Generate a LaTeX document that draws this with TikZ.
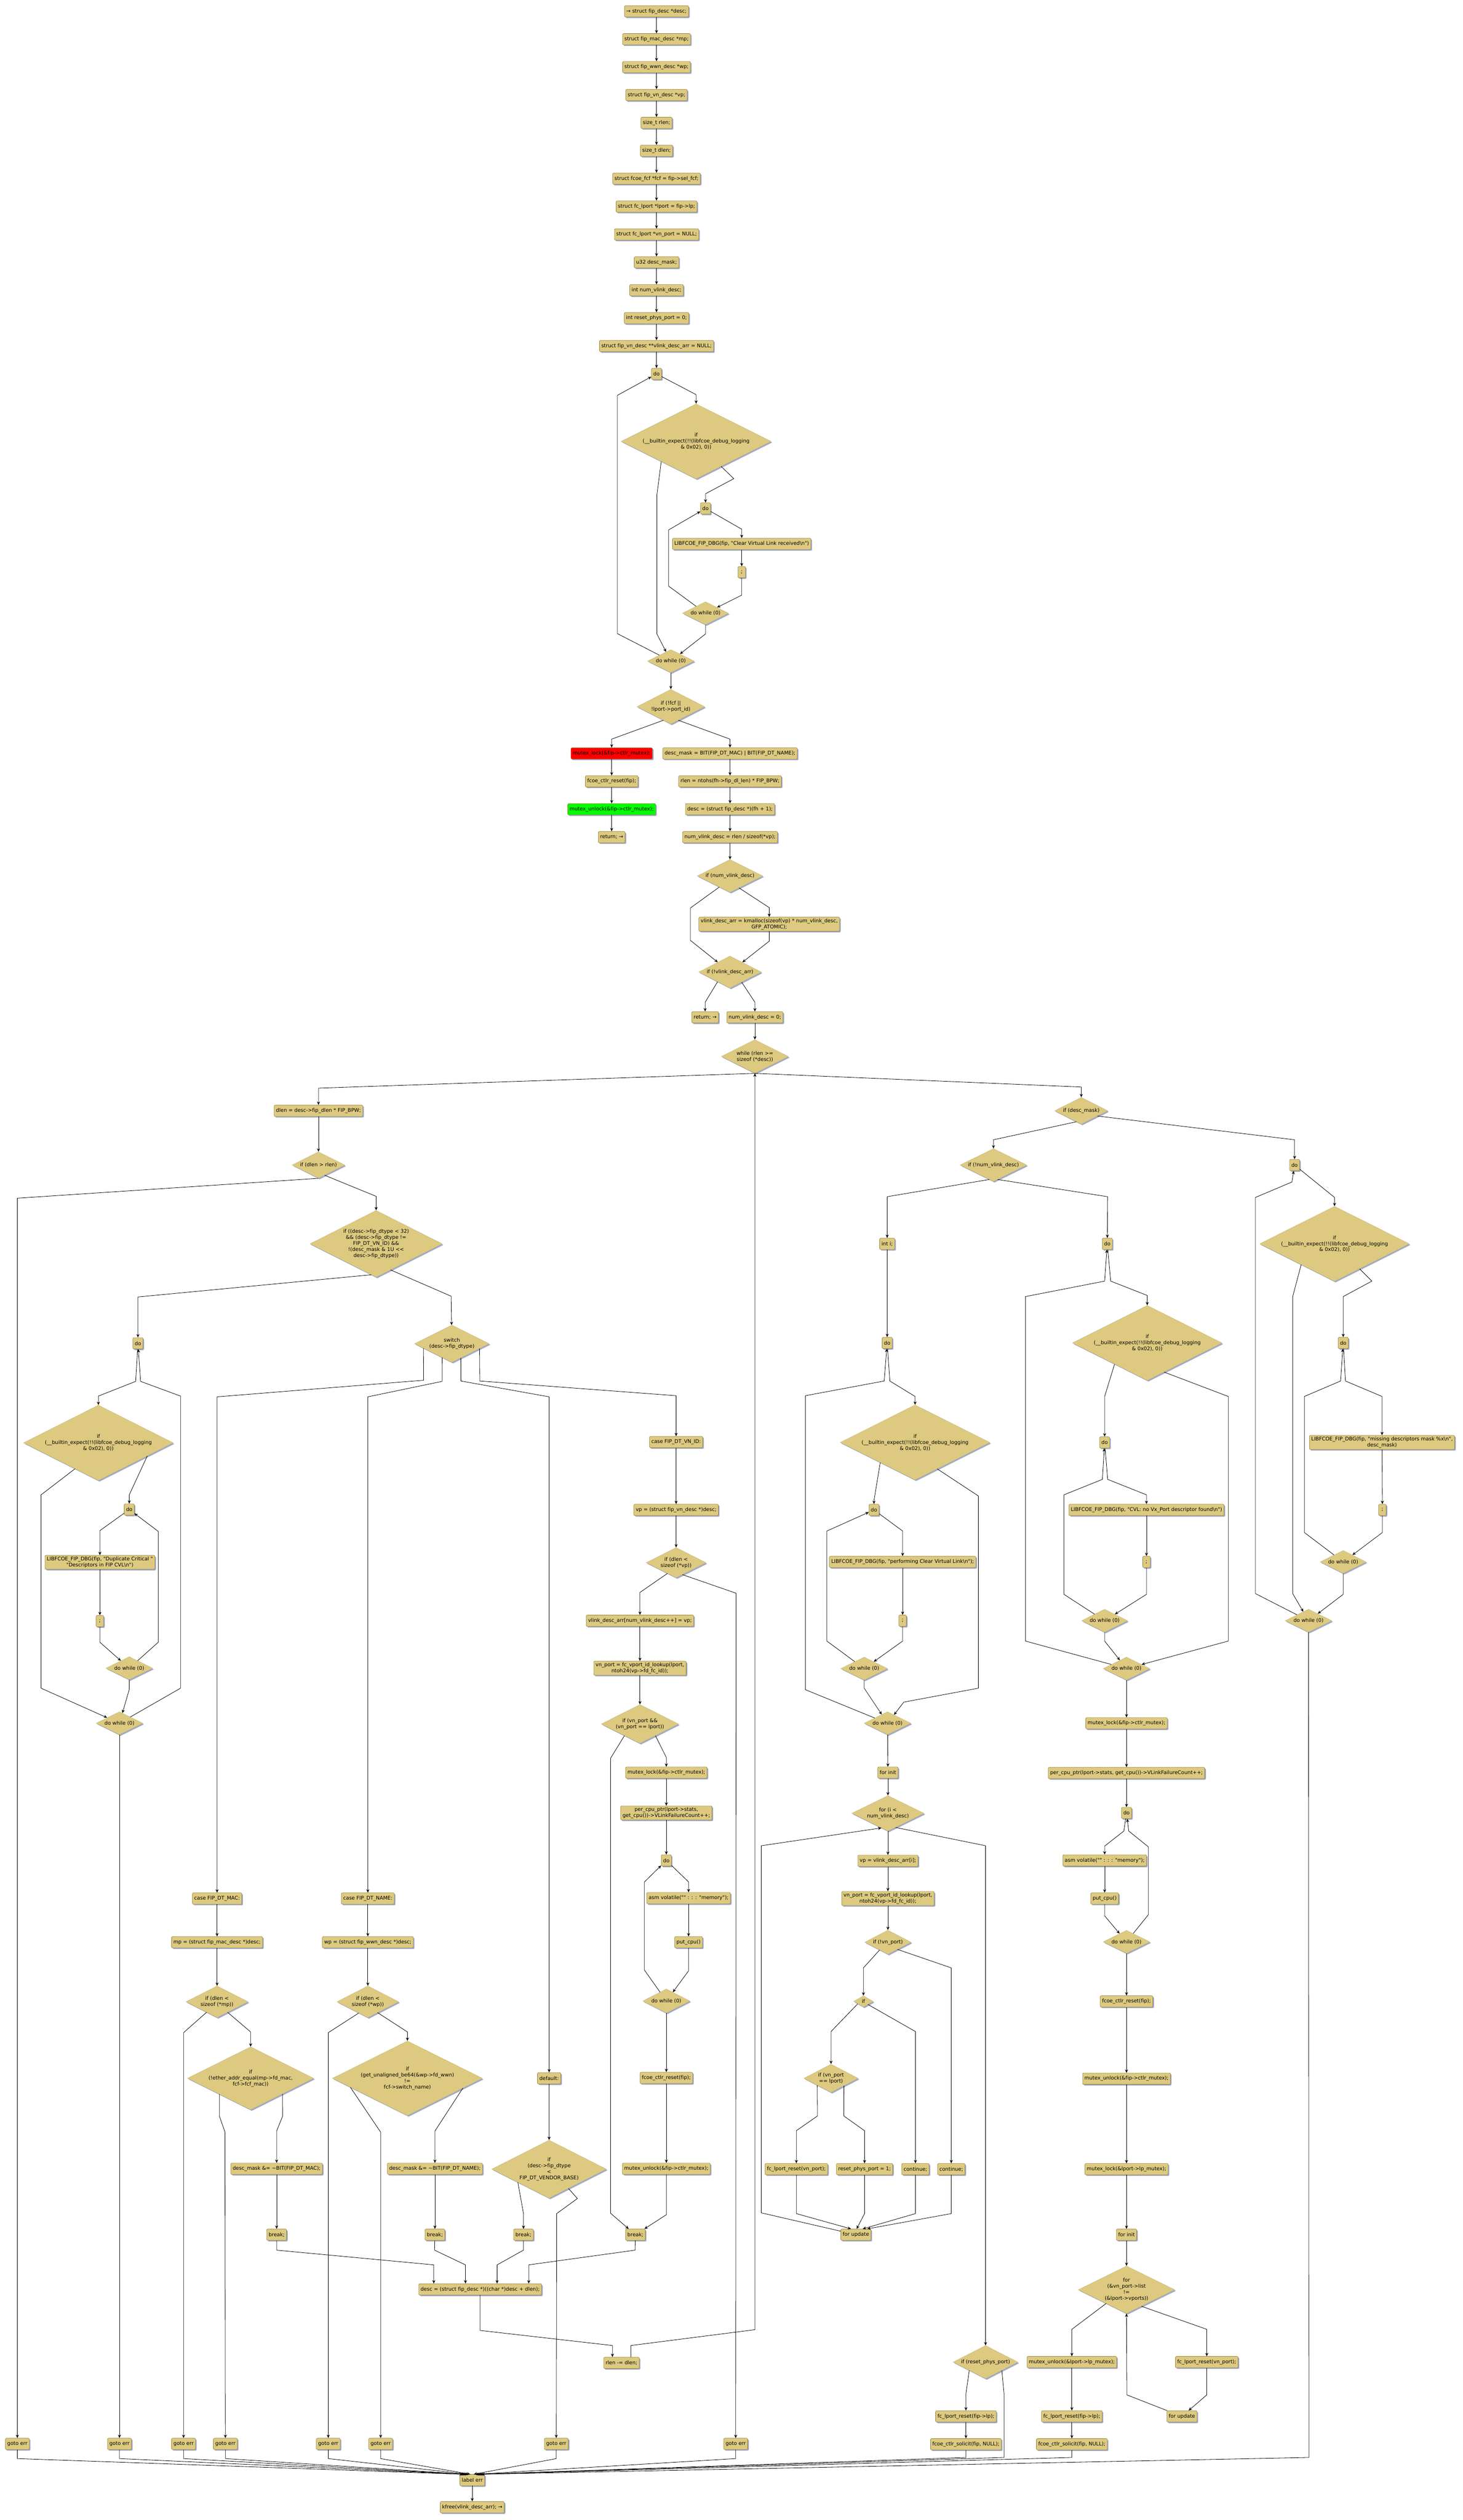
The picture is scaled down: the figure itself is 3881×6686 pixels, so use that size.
\documentclass[tikz,border=0pt]{standalone}
\usepackage{fontspec}
\newfontfamily\dv{DejaVu Sans}[Ligatures=NoCommon]
\usetikzlibrary{shapes.geometric,shadows,arrows.meta}
\definecolor{boxc}{RGB}{221,202,128}
\definecolor{bordc}{RGB}{150,130,60}
\definecolor{shc}{RGB}{160,170,205}
\newcommand{\fs}{\dv\fontsize{13.4}{16}\selectfont}
\begin{document}
\begin{tikzpicture}[x=1pt,y=-1pt,
  box/.style={draw=bordc, line width=0.9pt, fill=boxc, rounded corners=3pt, minimum height=30pt, minimum width=20pt, inner xsep=5pt, inner ysep=4pt, align=center, font=\fs, drop shadow={shadow xshift=3pt, shadow yshift=-3pt, fill=shc, opacity=1}},
  dia/.style={diamond, shape aspect=2, fill=boxc, draw=boxc!85!black, line width=0.5pt, inner sep=0pt, align=center, font=\fs, drop shadow={shadow xshift=3pt, shadow yshift=-3pt, fill=shc, opacity=1}},
  dsz/.style 2 args={minimum width=#1pt, minimum height=#2pt},
  e/.style={line width=1.1pt, -{Stealth[length=9pt,width=8pt]}}]
\useasboundingbox (0,0) rectangle (3881,6686);
\fill[white] (0,0) rectangle (3881,6686);
% ---------- top chain
\node[box] (n1) at (1742,30) {→ struct fip\_desc *desc;};
\node[box] (n2) at (1742,104) {struct fip\_mac\_desc *mp;};
\node[box] (n3) at (1742,178) {struct fip\_wwn\_desc *wp;};
\node[box] (n4) at (1742,252) {struct fip\_vn\_desc *vp;};
\node[box] (n5) at (1742,326) {size\_t rlen;};
\node[box] (n6) at (1742,400) {size\_t dlen;};
\node[box] (n7) at (1742,474) {struct fcoe\_fcf *fcf = fip->sel\_fcf;};
\node[box] (n8) at (1742,548) {struct fc\_lport *lport = fip->lp;};
\node[box] (n9) at (1742,622) {struct fc\_lport *vn\_port = NULL;};
\node[box] (n10) at (1742,696) {u32 desc\_mask;};
\node[box] (n11) at (1742,770) {int num\_vlink\_desc;};
\node[box] (n12) at (1742,844) {int reset\_phys\_port = 0;};
\node[box] (n13) at (1742,918) {struct fip\_vn\_desc **vlink\_desc\_arr = NULL;};
\node[box] (do1) at (1742,992) {do};
\node[dia,dsz={398}{199}] (if1) at (1847,1171) {if\\(\_\_builtin\_expect(!!(libfcoe\_debug\_logging\\\& 0x02), 0))};
\node[box] (do2) at (1872,1349) {do};
\node[box] (dbg1) at (1968,1443) {LIBFCOE\_FIP\_DBG(fip, "Clear Virtual Link received\textbackslash n")};
\node[box] (sc1) at (1968,1518) {;};
\node[dia,dsz={122}{61}] (dw1) at (1872,1627) {do while (0)};
\node[dia,dsz={124}{61}] (dw2) at (1780,1754) {do while (0)};
\node[dia,dsz={180}{92}] (iffcf) at (1780,1875) {if (!fcf ||\\!lport->port\_id)};
\node[box,fill=red] (ml1) at (1623,1999) {mutex\_lock(\&fip->ctlr\_mutex);};
\node[box] (cr1) at (1623,2073) {fcoe\_ctlr\_reset(fip);};
\node[box,fill=green] (mu1) at (1623,2147) {mutex\_unlock(\&fip->ctlr\_mutex);};
\node[box] (ret1) at (1623,2221) {return; →};
\node[box] (dm) at (1937,1999) {desc\_mask = BIT(FIP\_DT\_MAC) | BIT(FIP\_DT\_NAME);};
\node[box] (rl) at (1937,2073) {rlen = ntohs(fh->fip\_dl\_len) * FIP\_BPW;};
\node[box] (ds) at (1937,2147) {desc = (struct fip\_desc *)(fh + 1);};
\node[box] (nv) at (1937,2221) {num\_vlink\_desc = rlen / sizeof(*vp);};
\node[dia,dsz={174}{87}] (ifnv) at (1937,2324) {if (num\_vlink\_desc)};
\node[box] (km) at (2041,2452) {vlink\_desc\_arr = kmalloc(sizeof(vp) * num\_vlink\_desc,\\GFP\_ATOMIC);};
\node[dia,dsz={166}{85}] (ifarr) at (1937,2579) {if (!vlink\_desc\_arr)};
\node[box] (ret2) at (1871,2699) {return; →};
\node[box] (nv0) at (2003,2699) {num\_vlink\_desc = 0;};
\node[dia,dsz={178}{89}] (wh) at (2003,2803) {while (rlen >=\\sizeof (*desc))};
% ---------- loop body
\node[box] (dl) at (845,2947) {dlen = desc->fip\_dlen * FIP\_BPW;};
\node[dia,dsz={140}{70}] (ifdl) at (845,3091) {if (dlen > rlen)};
\node[dia,dsz={351}{177}] (ifdt) at (998,3300) {if ((desc->fip\_dtype < 32)\\\&\& (desc->fip\_dtype !=\\FIP\_DT\_VN\_ID) \&\&\\!(desc\_mask \& 1U <<\\desc->fip\_dtype))};
\node[box] (do3) at (366,3564) {do};
\node[dia,dsz={397}{200}] (if2) at (261,3828) {if\\(\_\_builtin\_expect(!!(libfcoe\_debug\_logging\\\& 0x02), 0))};
\node[box] (do4) at (343,4005) {do};
\node[box] (dbg2) at (265,4145) {LIBFCOE\_FIP\_DBG(fip, "Duplicate Critical "\\"Descriptors in FIP CVL\textbackslash n")};
\node[box] (sc2) at (265,4301) {;};
\node[dia,dsz={124}{61}] (dw3) at (343,4426) {do while (0)};
\node[dia,dsz={124}{61}] (dw4) at (317,4572) {do while (0)};
\node[dia,dsz={198}{99}] (sw) at (1199,3565) {switch\\(desc->fip\_dtype)};
\node[box] (cmac) at (576,5037) {case FIP\_DT\_MAC:};
\node[box] (mp) at (576,5153) {mp = (struct fip\_mac\_desc *)desc;};
\node[dia,dsz={165}{84}] (ifmp) at (576,5311) {if (dlen <\\sizeof (*mp))};
\node[dia,dsz={335}{167}] (ifeth) at (665,5514) {if\\(!ether\_addr\_equal(mp->fd\_mac,\\fcf->fcf\_mac))};
\node[box] (dmm) at (734,5754) {desc\_mask \&= \textasciitilde BIT(FIP\_DT\_MAC);};
\node[box] (brk1) at (734,5929) {break;};
\node[box] (cname) at (976,5037) {case FIP\_DT\_NAME:};
\node[box] (wp) at (976,5153) {wp = (struct fip\_wwn\_desc *)desc;};
\node[dia,dsz={164}{84}] (ifwp) at (976,5311) {if (dlen <\\sizeof (*wp))};
\node[dia,dsz={398}{198}] (ifwwn) at (1081,5514) {if\\(get\_unaligned\_be64(\&wp->fd\_wwn)\\!=\\fcf->switch\_name)};
\node[box] (dmn) at (1154,5754) {desc\_mask \&= \textasciitilde BIT(FIP\_DT\_NAME);};
\node[box] (brk2) at (1154,5929) {break;};
\node[box] (cdef) at (1457,5514) {default:};
\node[dia,dsz={304}{154}] (ifven) at (1457,5755) {if\\(desc->fip\_dtype\\<\\FIP\_DT\_VENDOR\_BASE)};
\node[box] (brk3) at (1389,5929) {break;};
\node[box] (cvn) at (1794,3826) {case FIP\_DT\_VN\_ID:};
\node[box] (vp) at (1794,4006) {vp = (struct fip\_vn\_desc *)desc;};
\node[dia,dsz={159}{80}] (ifvp) at (1794,4146) {if (dlen <\\sizeof (*vp))};
\node[box] (varr) at (1698,4300) {vlink\_desc\_arr[num\_vlink\_desc++] = vp;};
\node[box] (vnp) at (1698,4426) {vn\_port = fc\_vport\_id\_lookup(lport,\\ntoh24(vp->fd\_fc\_id));};
\node[dia,dsz={205}{103}] (ifvnp) at (1698,4574) {if (vn\_port \&\&\\(vn\_port == lport))};
\node[box] (ml2) at (1768,4703) {mutex\_lock(\&fip->ctlr\_mutex);};
\node[box] (pc1) at (1768,4810) {per\_cpu\_ptr(lport->stats,\\get\_cpu())->VLinkFailureCount++;};
\node[box] (do5) at (1768,4936) {do};
\node[box] (asm1) at (1827,5036) {asm volatile("" : : : "memory");};
\node[box] (put1) at (1827,5153) {put\_cpu()};
\node[dia,dsz={125}{64}] (dw5) at (1768,5309) {do while (0)};
\node[box] (cr2) at (1768,5513) {fcoe\_ctlr\_reset(fip);};
\node[box] (mu2) at (1768,5754) {mutex\_unlock(\&fip->ctlr\_mutex);};
\node[box] (brk4) at (1686,5929) {break;};
\node[box] (dsn) at (1274,6074) {desc = (struct fip\_desc *)((char *)desc + dlen);};
\node[box] (rlm) at (1649,6269) {rlen -= dlen;};
\foreach \i/\x in {1/46,2/317,3/487,4/598,5/871,6/1010,7/1476,8/1952}
  \node[box] (G\i) at (\x,6484) {goto err};
\node[box] (lerr) at (1253,6580) {label err};
\node[box] (kf) at (1253,6652) {kfree(vlink\_desc\_arr); →};
% ---------- after loop
\node[dia,dsz={141}{71}] (ifdm) at (2869,2947) {if (desc\_mask)};
\node[dia,dsz={177}{87}] (ifnnv) at (2636,3091) {if (!num\_vlink\_desc)};
\node[box] (doR) at (3435,3091) {do};
\node[dia,dsz={397}{199}] (ifR) at (3541,3300) {if\\(\_\_builtin\_expect(!!(libfcoe\_debug\_logging\\\& 0x02), 0))};
\node[box] (doR2) at (3564,3563) {do};
\node[box] (dbgR) at (3667,3827) {LIBFCOE\_FIP\_DBG(fip, "missing descriptors mask \%x\textbackslash n",\\desc\_mask)};
\node[box] (scR) at (3668,4006) {;};
\node[dia,dsz={122}{61}] (dwR1) at (3564,4144) {do while (0)};
\node[dia,dsz={124}{61}] (dwR2) at (3472,4300) {do while (0)};
\node[box] (inti) at (2354,3300) {int i;};
\node[box] (doL) at (2354,3563) {do};
\node[dia,dsz={397}{199}] (ifL) at (2428,3827) {if\\(\_\_builtin\_expect(!!(libfcoe\_debug\_logging\\\& 0x02), 0))};
\node[box] (doL2) at (2319,4006) {do};
\node[box] (dbgL) at (2395,4144) {LIBFCOE\_FIP\_DBG(fip, "performing Clear Virtual Link\textbackslash n");};
\node[box] (scL) at (2395,4300) {;};
\node[dia,dsz={124}{61}] (dwL1) at (2293,4427) {do while (0)};
\node[dia,dsz={124}{61}] (dwL2) at (2355,4572) {do while (0)};
\node[box] (fini) at (2356,4703) {for init};
\node[dia,dsz={192}{94}] (fori) at (2356,4811) {for (i <\\num\_vlink\_desc)};
\node[box] (vpi) at (2356,4937) {vp = vlink\_desc\_arr[i];};
\node[box] (vnp2) at (2356,5037) {vn\_port = fc\_vport\_id\_lookup(lport,\\ntoh24(vp->fd\_fc\_id));};
\node[dia,dsz={123}{64}] (ifvn) at (2356,5153) {if (!vn\_port)};
\node[dia,dsz={52}{30}] (ifs) at (2291,5310) {if};
\node[dia,dsz={144}{75}] (ifeq) at (2205,5514) {if (vn\_port\\== lport)};
\node[box] (flr1) at (2113,5755) {fc\_lport\_reset(vn\_port);};
\node[box] (rpp) at (2294,5755) {reset\_phys\_port = 1;};
\node[box] (con1) at (2429,5755) {continue;};
\node[box] (con2) at (2524,5755) {continue;};
\node[box] (fup1) at (2271,5929) {for update};
\node[dia,dsz={172}{88}] (ifrpp) at (2615,6267) {if (reset\_phys\_port)};
\node[box] (flr2) at (2563,6411) {fc\_lport\_reset(fip->lp);};
\node[box] (sol1) at (2563,6485) {fcoe\_ctlr\_solicit(fip, NULL);};
\node[box] (doM) at (2938,3300) {do};
\node[dia,dsz={397}{199}] (ifM) at (3044,3563) {if\\(\_\_builtin\_expect(!!(libfcoe\_debug\_logging\\\& 0x02), 0))};
\node[box] (doM2) at (2931,3827) {do};
\node[box] (dbgM) at (3042,4006) {LIBFCOE\_FIP\_DBG(fip, "CVL: no Vx\_Port descriptor found\textbackslash n")};
\node[box] (scM) at (3042,4144) {;};
\node[dia,dsz={122}{61}] (dwM1) at (2931,4300) {do while (0)};
\node[dia,dsz={124}{61}] (dwM2) at (2989,4427) {do while (0)};
\node[box] (ml3) at (2989,4572) {mutex\_lock(\&fip->ctlr\_mutex);};
\node[box] (pc2) at (2989,4704) {per\_cpu\_ptr(lport->stats, get\_cpu())->VLinkFailureCount++;};
\node[box] (doM3) at (2989,4810) {do};
\node[box] (asm2) at (2931,4936) {asm volatile("" : : : "memory");};
\node[box] (put2) at (2931,5037) {put\_cpu()};
\node[dia,dsz={124}{61}] (dwM3) at (2989,5152) {do while (0)};
\node[box] (cr3) at (2989,5310) {fcoe\_ctlr\_reset(fip);};
\node[box] (mu3) at (2989,5515) {mutex\_unlock(\&fip->ctlr\_mutex);};
\node[box] (ml4) at (2989,5755) {mutex\_lock(\&lport->lp\_mutex);};
\node[box] (fin2) at (2989,5929) {for init};
\node[dia,dsz={256}{126}] (forv) at (2989,6075) {for\\(\&vn\_port->list\\!=\\(\&lport->vports))};
\node[box] (mu4) at (2844,6267) {mutex\_unlock(\&lport->lp\_mutex);};
\node[box] (flr3) at (3202,6267) {fc\_lport\_reset(vn\_port);};
\node[box] (flr4) at (2844,6411) {fc\_lport\_reset(fip->lp);};
\node[box] (sol2) at (2844,6485) {fcoe\_ctlr\_solicit(fip, NULL);};
\node[box] (fup2) at (3136,6411) {for update};
% ---------- straight edges
\foreach \a/\b in {n1/n2,n2/n3,n3/n4,n4/n5,n5/n6,n6/n7,n7/n8,n8/n9,n9/n10,n10/n11,n11/n12,n12/n13,n13/do1,
  dbg1/sc1,dw2/iffcf,ml1/cr1,cr1/mu1,mu1/ret1,dm/rl,rl/ds,ds/nv,nv/ifnv,nv0/wh,dl/ifdl,dbg2/sc2,dw4/G2,
  cmac/mp,mp/ifmp,dmm/brk1,cname/wp,wp/ifwp,dmn/brk2,cdef/ifven,cvn/vp,vp/ifvp,varr/vnp,vnp/ifvnp,
  ml2/pc1,pc1/do5,asm1/put1,dw5/cr2,cr2/mu2,lerr/kf,dbgR/scR,inti/doL,dbgL/scL,dwL2/fini,fini/fori,
  fori/vpi,vpi/vnp2,vnp2/ifvn,flr2/sol1,dbgM/scM,dwM2/ml3,ml3/pc2,pc2/doM3,asm2/put2,dwM3/cr3,cr3/mu3,
  mu3/ml4,ml4/fin2,fin2/forv,mu4/flr4,flr4/sol2}
  \draw[e] (\a) -- (\b);
% ---------- top section
\draw[e] (do1) -- (1847,1047) -- (if1);
\draw[e] (if1.210) -- (1743,1313) -- (1743,1682) -- (dw2);
\draw[e] (if1.315) -- (1947,1270) -- (1872,1310) -- (do2);
\draw[e] (do2) -- (1968,1404) -- (dbg1);
\draw[e] (sc1) -- (1968,1579) -- (dw1);
\draw[e] (dw1) -- (1774,1555) -- (1774,1406) -- (do2);
\draw[e] (dw1) -- (1872,1682) -- (dw2);
\draw[e] (dw2) -- (1638,1681) -- (1638,1049) -- (do1);
\draw[e] (iffcf.241) -- (1623,1961) -- (ml1);
\draw[e] (iffcf.299) -- (1937,1961) -- (dm);
\draw[e] (ifnv.226) -- (1832,2409) -- (1832,2495) -- (ifarr);
\draw[e] (ifnv.307) -- (2041,2408) -- (km);
\draw[e] (km) -- (2041,2497) -- (ifarr);
\draw[e] (ifarr.218) -- (1871,2659) -- (ret2);
\draw[e] (ifarr.319) -- (2003,2659) -- (nv0);
\draw[e] (wh.south) -- (845,2887) -- (dl);
\draw[e] (wh.south) -- (2869,2884) -- (ifdm);
\draw[e] ([xshift=25pt]rlm.north) -- (1674,6223) -- (2003,6181) -- (wh.south);
% ---------- loop body
\draw[e] (ifdl.south) -- (46,3179) -- (G1);
\draw[e] (ifdl.301) -- (998,3174) -- (ifdt);
\draw[e] (ifdt.261) -- (366,3441) -- (do3);
\draw[e] (ifdt.299) -- (1197,3439) -- (sw);
\draw[e] (do3) -- (360,3665) -- (261,3704) -- (if2);
\draw[e] (if2.228) -- (109,3966) -- (109,4479) -- (dw4);
\draw[e] (if2.345) -- (343,3966) -- (do4);
\draw[e] (do4) -- (265,4061) -- (dbg2);
\draw[e] (sc2) -- (265,4357) -- (dw3);
\draw[e] (dw3) -- (420,4357) -- (420,4063) -- (do4);
\draw[e] (dw3) -- (343,4482) -- (dw4);
\draw[e] (dw4) -- (479,4479) -- (479,3704) -- (373,3665) -- (do3);
\draw[e] (sw.189) -- (1124,3662) -- (576,3706) -- (cmac);
\draw[e] (sw.235) -- (1173,3665) -- (976,3706) -- (cname);
\draw[e] (sw.302) -- (1223,3664) -- (1457,3706) -- (cdef);
\draw[e] (sw.350) -- (1273,3664) -- (1794,3703) -- (cvn);
\draw[e] (ifmp.225) -- (487,5393) -- (G3);
\draw[e] (ifmp.315) -- (665,5391) -- (ifeth);
\draw[e] (ifeth.207) -- (582,5614) -- (597,5657) -- (G4);
\draw[e] (ifeth.334) -- (750,5614) -- (734,5654) -- (dmm);
\draw[e] (ifwp.231) -- (871,5393) -- (G5);
\draw[e] (ifwp.312) -- (1081,5391) -- (ifwwn);
\draw[e] (ifwwn.189) -- (1010,5657) -- (G6);
\draw[e] (ifwwn.350) -- (1154,5654) -- (dmn);
\draw[e] (ifven.203) -- (1389,5873) -- (brk3);
\draw[e] (ifven.315) -- (1532,5833) -- (1477,5873) -- (G7);
\draw[e] (ifvp.231) -- (1698,4225) -- (varr);
\draw[e] (ifvp.298) -- (1953,4227) -- (G8);
\draw[e] (ifvnp.217) -- (1620,4665) -- (1620,5872) -- (brk4);
\draw[e] (ifvnp.323) -- (1768,4663) -- (ml2);
\draw[e] (do5) -- (1827,4993) -- (asm1);
\draw[e] (put1) -- (1827,5229) -- (dw5);
\draw[e] (dw5) -- (1710,5227) -- (1710,4993) -- (do5);
\draw[e] (mu2) -- (1768,5876) -- (brk4);
\draw[e] (brk1) -- (734,5970) -- (1151,6009) -- ([xshift=-123pt]dsn.north);
\draw[e] (brk2) -- (1153,5970) -- (1235,6009) -- ([xshift=-39pt]dsn.north);
\draw[e] (brk3) -- (1389,5970) -- (1319,6009) -- ([xshift=45pt]dsn.north);
\draw[e] (brk4) -- (1685,5970) -- (1403,6009) -- ([xshift=129pt]dsn.north);
\draw[e] (dsn) -- (1274,6183) -- (1625,6223) -- ([xshift=-24pt]rlm.north);
% ---------- to label err
\draw[e] (G1) -- (46,6523) -- ([xshift=-25pt]lerr.north);
\draw[e] (G2) -- (317,6523) -- ([xshift=-21pt]lerr.north);
\draw[e] (G3) -- (487,6523) -- ([xshift=-17pt]lerr.north);
\draw[e] (G4) -- (598,6523) -- ([xshift=-13pt]lerr.north);
\draw[e] (G5) -- (871,6523) -- ([xshift=-9pt]lerr.north);
\draw[e] (G6) -- (1010,6523) -- ([xshift=-5pt]lerr.north);
\draw[e] (G7) -- (1476,6523) -- ([xshift=4pt]lerr.north);
\draw[e] (G8) -- (1952,6523) -- ([xshift=8pt]lerr.north);
\draw[e] (sol1) -- (2563,6520) -- ([xshift=12pt]lerr.north);
\draw[e] (ifrpp.333) -- (2664,6351) -- (2664,6520) -- ([xshift=16pt]lerr.north);
\draw[e] (sol2) -- (2844,6520) -- ([xshift=20pt]lerr.north);
\draw[e] (dwR2) -- (3473,6520) -- ([xshift=24pt]lerr.north);
% ---------- right side
\draw[e] (ifdm.246) -- (2636,3024) -- (ifnnv);
\draw[e] (ifdm.342) -- (3435,3024) -- (doR);
\draw[e] (doR) -- (3541,3177) -- (ifR);
\draw[e] (ifR.212) -- (3430,3440) -- (3430,4228) -- (dwR2);
\draw[e] (ifR.315) -- (3640,3399) -- (3564,3440) -- (doR2);
\draw[e] (doR2) -- (3570,3664) -- (3667,3705) -- (dbgR);
\draw[e] (scR) -- (3668,4066) -- (dwR1);
\draw[e] (dwR1) -- (3461,4066) -- (3461,3705) -- (3557,3664) -- (doR2);
\draw[e] (dwR1) -- (3564,4230) -- (dwR2);
\draw[e] (dwR2) -- (3331,4228) -- (3331,3177) -- (3428,3136) -- (doR);
\draw[e] (ifnnv.254) -- (2354,3175) -- (inti);
\draw[e] (ifnnv.286) -- (2939,3175) -- (doM);
\draw[e] (doL) -- (2361,3664) -- (2428,3705) -- (ifL);
\draw[e] (ifL.210) -- (2319,3981) -- (doL2);
\draw[e] (ifL.310) -- (2596,3969) -- (2596,4479) -- (2398,4516) -- (dwL2);
\draw[e] (doL2) -- (2395,4062) -- (dbgL);
\draw[e] (scL) -- (2395,4354) -- (dwL1);
\draw[e] (dwL1) -- (2194,4354) -- (2194,4062) -- (doL2);
\draw[e] (dwL1) -- (2293,4479) -- (dwL2);
\draw[e] (dwL2) -- (2137,4483) -- (2137,3703) -- (2346,3664) -- (doL);
\draw[e] (fori.298) -- (2615,4897) -- (2615,6221) -- (ifrpp);
\draw[e] (fup1) -- (2020,5871) -- (2020,4897) -- (fori.246);
\draw[e] (ifvn.223) -- (2291,5221) -- (ifs);
\draw[e] (ifvn.323) -- (2524,5221) -- (con2);
\draw[e] (ifs.203) -- (2205,5390) -- (ifeq);
\draw[e] (ifs.326) -- (2429,5390) -- (con1);
\draw[e] (ifeq.207) -- (2169,5614) -- (2113,5653) -- (flr1);
\draw[e] (ifeq.330) -- (2239,5614) -- (2294,5653) -- (rpp);
\draw[e] (flr1) -- (2113,5873) -- ([xshift=-13pt]fup1.north);
\draw[e] (rpp) -- (2294,5873) -- ([xshift=2pt]fup1.north);
\draw[e] (con1) -- (2429,5873) -- ([xshift=18pt]fup1.north);
\draw[e] (con2) -- (2524,5873) -- ([xshift=30pt]fup1.north);
\draw[e] (ifrpp.207) -- (2563,6351) -- (flr2);
\draw[e] (doM) -- (2947,3399) -- (3044,3437) -- (ifM);
\draw[e] (ifM.213) -- (2931,3705) -- (doM2);
\draw[e] (ifM.300) -- (3259,3705) -- (3259,4354) -- (dwM2);
\draw[e] (doM2) -- (2939,3925) -- (3042,3966) -- (dbgM);
\draw[e] (scM) -- (3042,4230) -- (dwM1);
\draw[e] (dwM1) -- (2823,4230) -- (2823,3966) -- (2925,3925) -- (doM2);
\draw[e] (dwM1) -- (2931,4354) -- (dwM2);
\draw[e] (dwM2) -- (2721,4354) -- (2721,3440) -- (2931,3399) -- (doM);
\draw[e] (doM3) -- (2982,4858) -- (2931,4898) -- (asm2);
\draw[e] (put2) -- (2931,5083) -- (dwM3);
\draw[e] (dwM3) -- (3047,5080) -- (3047,4900) -- (2995,4858) -- (doM3);
\draw[e] (forv.214) -- (2844,6180) -- (mu4);
\draw[e] (forv.312) -- (3202,6180) -- (flr3);
\draw[e] (flr3) -- (3202,6354) -- (fup2);
\draw[e] (fup2) -- (2990,6354) -- (forv.south);
\end{tikzpicture}
\end{document}
